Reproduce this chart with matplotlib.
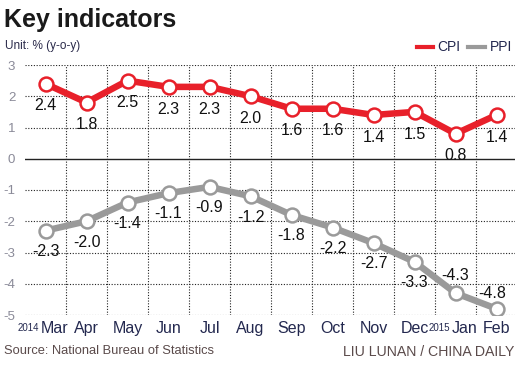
import matplotlib.pyplot as plt
import matplotlib.transforms as mtransforms
from matplotlib.lines import Line2D

# data
months = ["Mar", "Apr", "May", "Jun", "Jul", "Aug", "Sep", "Oct", "Nov", "Dec", "Jan", "Feb"]
cpi = [2.4, 1.8, 2.5, 2.3, 2.3, 2.0, 1.6, 1.6, 1.4, 1.5, 0.8, 1.4]
ppi = [-2.3, -2.0, -1.4, -1.1, -0.9, -1.2, -1.8, -2.2, -2.7, -3.3, -4.3, -4.8]
y_ticks = [3, 2, 1, 0, -1, -2, -3, -4, -5]

RED = "#e8202a"
GRAY = "#9a9a9a"
NAVY = "#23284f"
plt.rcParams["font.family"] = ["Liberation Sans Narrow", "Liberation Sans", "DejaVu Sans"]

fig = plt.figure(figsize=(5.18, 3.66), dpi=100)
ax = fig.add_axes([25 / 518, 1 - 315 / 366, 490 / 518, 250 / 366])

x = list(range(len(months)))
ax.set_xlim(-0.5, 11.45)
ax.set_ylim(-5, 3)

# grid
for y in y_ticks:
    if y == 0:
        ax.axhline(0, color="#222222", lw=1.0, zorder=1)
    else:
        ax.axhline(y, color="#222222", lw=0.8, ls=(0, (1, 1.5)), zorder=1)
for i in range(len(months) - 1):
    ax.axvline(i + 0.5, color="#222222", lw=0.8, ls=(0, (1, 1.5)), zorder=1)

ax.plot(x, cpi, color=RED, lw=4.7, marker="o", ms=10, mfc="white", mec=RED, mew=1.8, zorder=3)
ax.plot(x, ppi, color=GRAY, lw=4.7, marker="o", ms=10, mfc="white", mec=GRAY, mew=1.8, zorder=3)

# value labels
for i, v in enumerate(cpi):
    ax.annotate(f"{v:.1f}", (i, v), xytext=(0, -16), textcoords="offset points",
                ha="center", va="center", fontsize=11.5, color="#111111")
for i, v in enumerate(ppi):
    if i == 10:
        off = (0, 13)
    elif i == 11:
        off = (-3, 11)
    else:
        off = (0, -15)
    ax.annotate(f"{v:.1f}", (i, v), xytext=off, textcoords="offset points",
                ha="center", va="center", fontsize=11.5, color="#111111")

ax.set_xticks(x)
ax.set_xticklabels(months, fontsize=11.5, color=NAVY)
ax.set_yticks(y_ticks)
ax.set_yticklabels([str(t) for t in y_ticks], fontsize=9.5, color="#8a8a98")
ax.tick_params(length=0, pad=4)
ax.tick_params(axis="y", pad=7)
for s in ax.spines.values():
    s.set_visible(False)

# shift the month labels that carry a year in front of them
shift = mtransforms.ScaledTranslation(9 / 100, 0, fig.dpi_scale_trans)
for lab in ax.get_xticklabels():
    if lab.get_text() in ("Mar", "Jan"):
        lab.set_transform(lab.get_transform() + shift)

fig.text(39 / 518, 1 - 328 / 366, "2014", fontsize=7, color=NAVY, ha="right", va="center")
fig.text(450 / 518, 1 - 328 / 366, "2015", fontsize=7, color=NAVY, ha="right", va="center")

fig.text(4 / 518, 1 - 20 / 366, "Key indicators", fontsize=18, fontweight="bold",
         color="#1a1a1a", ha="left", va="center")
fig.text(5 / 518, 1 - 46 / 366, "Unit: % (y-o-y)", fontsize=8.5, color="#2a2a4a", ha="left", va="center")

# legend
fig.add_artist(Line2D([417 / 518, 433 / 518], [1 - 47 / 366] * 2, color=RED, lw=3))
fig.text(437 / 518, 1 - 47 / 366, "CPI", fontsize=10, color=NAVY, ha="left", va="center")
fig.add_artist(Line2D([468 / 518, 485 / 518], [1 - 47 / 366] * 2, color=GRAY, lw=3))
fig.text(490 / 518, 1 - 47 / 366, "PPI", fontsize=10, color=NAVY, ha="left", va="center")

fig.text(4 / 518, 1 - 351 / 366, "Source: National Bureau of Statistics", fontsize=9.3,
         color="#5a4a4a", ha="left", va="center")
fig.text(514 / 518, 1 - 352 / 366, "LIU LUNAN / CHINA DAILY", fontsize=10.2,
         color="#5a4a4a", ha="right", va="center")

fig.savefig("out.png", dpi=100)
